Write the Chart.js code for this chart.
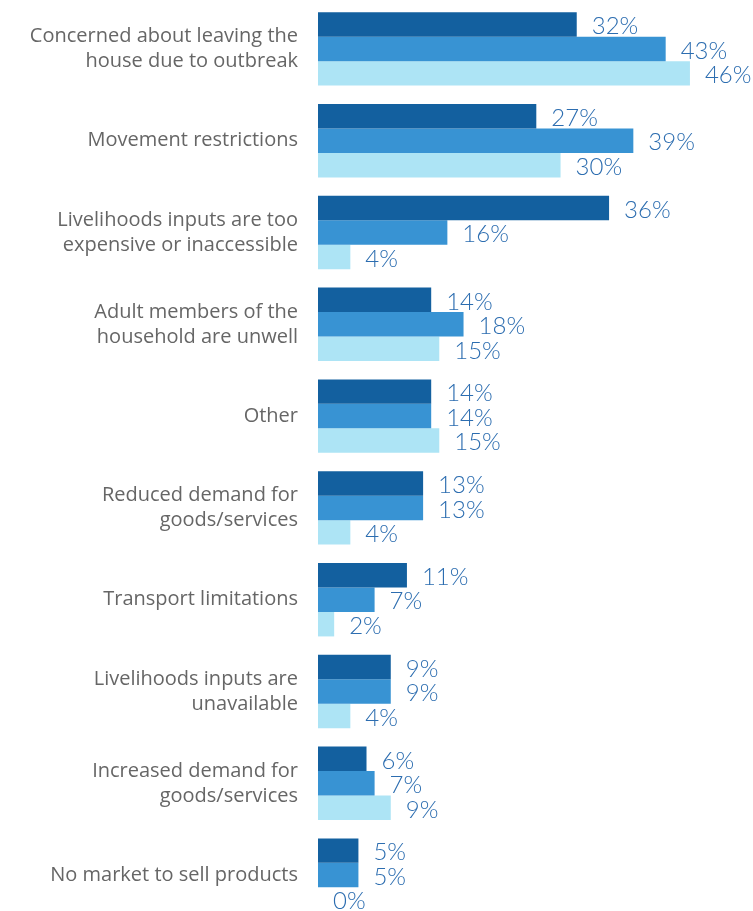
<!DOCTYPE html>
<html>
<head>
<meta charset="utf-8">
<script src="https://cdn.jsdelivr.net/npm/chart.js@4"></script>
<style>
  html, body { margin: 0; padding: 0; background: #fff; overflow: hidden; }
  #wrap { width: 753px; height: 921px; }
</style>
</head>
<body>
<div id="wrap"><canvas id="barriers"></canvas></div>
<script>
// 类别（多行标签）
const categories = [
    ['Concerned about leaving the', 'house due to outbreak'],
    'Movement restrictions',
    ['Livelihoods inputs are too', 'expensive or inaccessible'],
    ['Adult members of the', 'household are unwell'],
    'Other',
    ['Reduced demand for', 'goods/services'],
    'Transport limitations',
    ['Livelihoods inputs are', 'unavailable'],
    ['Increased demand for', 'goods/services'],
    'No market to sell products'
];

// 三组数据（百分比）
const seriesA = [32, 27, 36, 14, 14, 13, 11, 9, 6, 5];
const seriesB = [43, 39, 16, 18, 14, 13, 7, 9, 7, 5];
const seriesC = [46, 30, 4, 15, 15, 4, 2, 4, 9, 0];

const colors = ['#13609f', '#3893d3', '#ade4f5'];

// 在柱子末端写数值
const valueLabels = {
    id: 'valueLabels',
    afterDatasetsDraw(chart) {
        const ctx = chart.ctx;
        ctx.save();
        ctx.font = '300 24px Lato';
        ctx.fillStyle = '#2c6db0';
        ctx.textAlign = 'left';
        ctx.textBaseline = 'middle';
        chart.data.datasets.forEach((ds, i) => {
            chart.getDatasetMeta(i).data.forEach((bar, j) => {
                ctx.fillText(ds.data[j] + '%', bar.x + 15, bar.y + 2);
            });
        });
        ctx.restore();
    }
};

new Chart(document.getElementById('barriers').getContext('2d'), {
    type: 'bar',
    data: {
        labels: categories,
        datasets: [
            { label: 'A', data: seriesA, backgroundColor: colors[0] },
            { label: 'B', data: seriesB, backgroundColor: colors[1] },
            { label: 'C', data: seriesC, backgroundColor: colors[2] }
        ]
    },
    options: {
        indexAxis: 'y',
        responsive: true,
        maintainAspectRatio: false,
        animation: false,
        datasets: {
            bar: { categoryPercentage: 0.8, barPercentage: 1.0 }
        },
        layout: { padding: { top: 3, right: 0, bottom: 0, left: 0 } },
        plugins: {
            legend: { display: false },
            tooltip: { enabled: false }
        },
        scales: {
            x: {
                min: 0,
                max: 53.8,
                display: false,
                grid: { display: false }
            },
            y: {
                grid: { display: false, drawTicks: false },
                border: { display: false },
                ticks: {
                    color: '#666666',
                    font: { family: 'Open Sans', size: 20, weight: 400, lineHeight: 1.25 },
                    padding: 20,
                    autoSkip: false
                },
                afterFit(scale) {
                    scale.width = 318;
                    scale.paddingTop = 0;
                    scale.paddingBottom = 0;
                }
            }
        }
    },
    plugins: [valueLabels]
});
</script>
</body>
</html>
